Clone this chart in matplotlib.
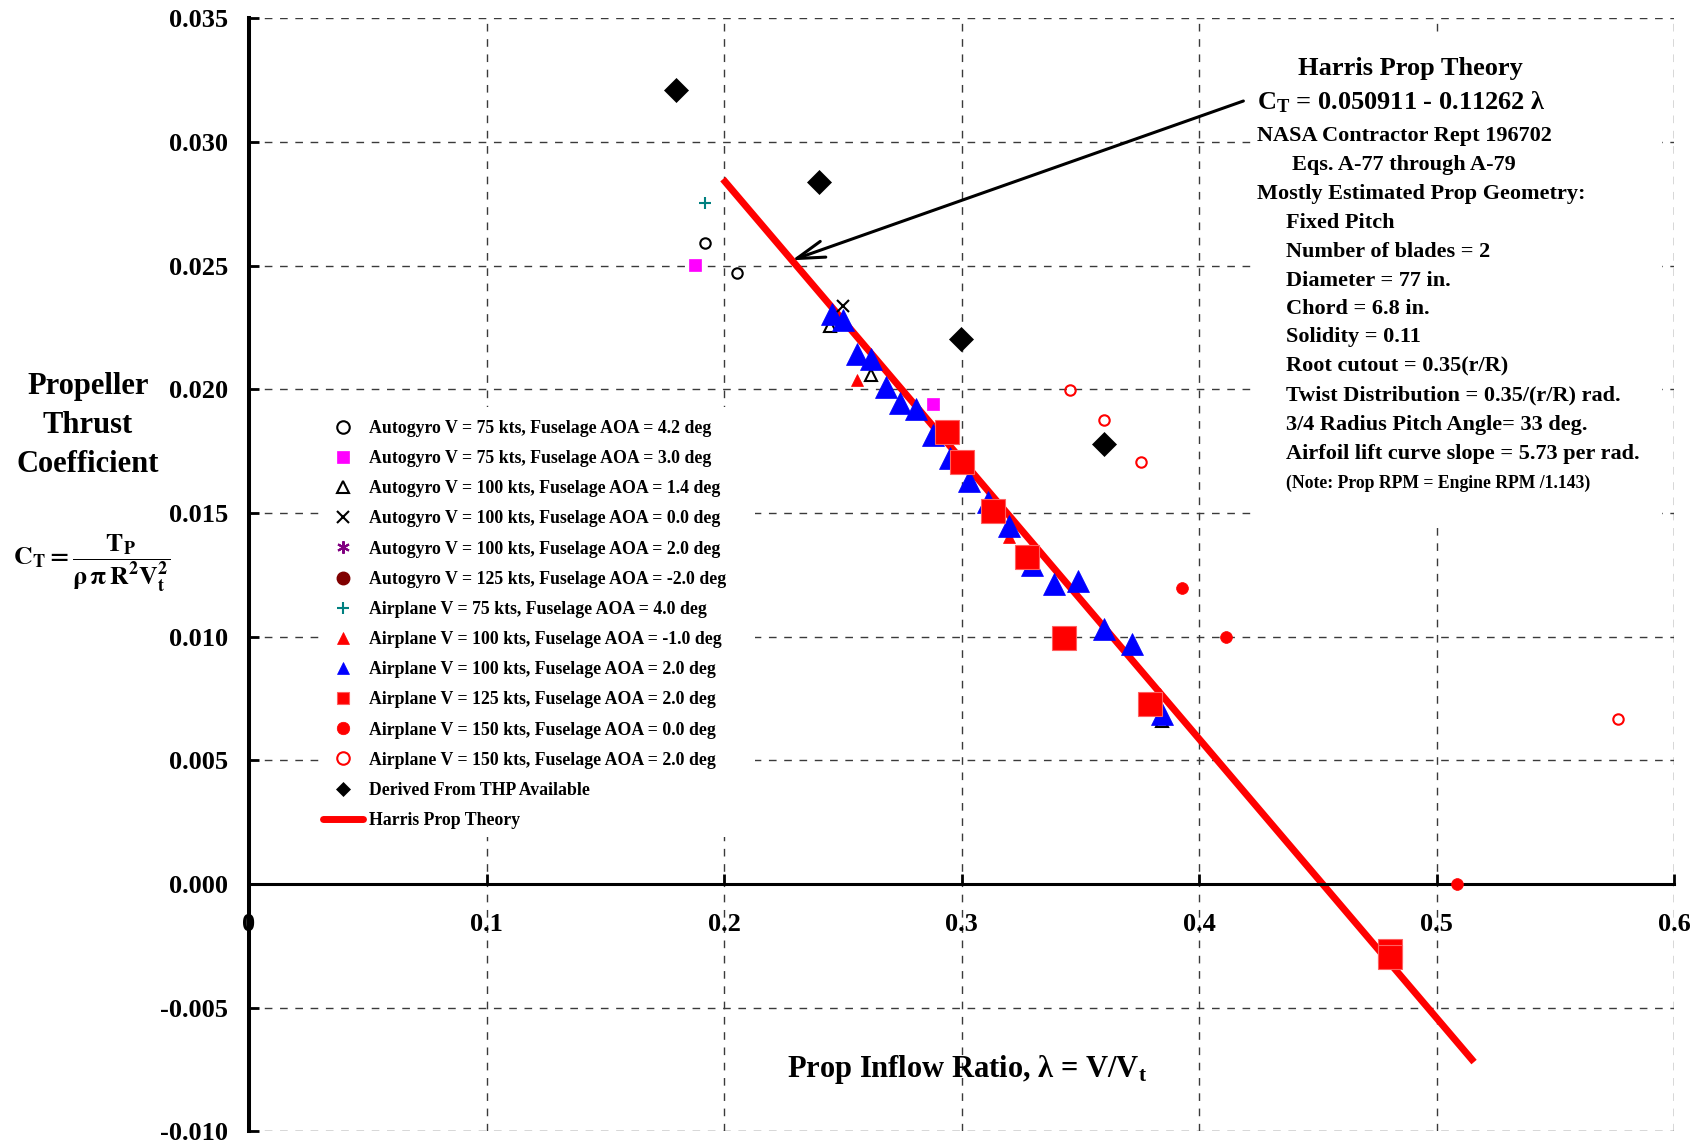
import numpy as np
import matplotlib
matplotlib.use("Agg")
import matplotlib.pyplot as plt
from matplotlib.lines import Line2D
from matplotlib.patches import Rectangle
from matplotlib.ticker import MultipleLocator, FuncFormatter

# ---------------- data ----------------
ag75_42_x = [0.1918, 0.2054]
ag75_42_y = [0.02593, 0.02470]
ag75_30_x = [0.1877, 0.2879]
ag75_30_y = [0.02501, 0.01940]
ag100_14_x = [0.2446, 0.2618, 0.3842]
ag100_14_y = [0.02258, 0.02060, 0.00660]
ag100_00_x = [0.2501]
ag100_00_y = [0.02339]
ag100_20_x = []
ag100_20_y = []
ag125_m20_x = []
ag125_m20_y = []
ap75_40_x = [0.1918]
ap75_40_y = [0.02755]
ap100_m10_x = [0.2560, 0.3201, 0.3836]
ap100_m10_y = [0.02036, 0.01402, 0.00768]
ap100_20_x = [0.2453, 0.2502, 0.2561, 0.2617, 0.2682, 0.2741, 0.2808, 0.2881, 0.2950,
              0.3032, 0.3109, 0.3201, 0.3295, 0.3390, 0.3491, 0.3600, 0.3718, 0.3842]
ap100_20_y = [0.02306, 0.02282, 0.02144, 0.02124, 0.02009, 0.01944, 0.01922, 0.01814, 0.01721,
              0.01631, 0.01545, 0.01447, 0.01290, 0.01211, 0.01227, 0.01031, 0.00971, 0.00687]
ap125_20_x = [0.2940, 0.3000, 0.3131, 0.3274, 0.3430, 0.3792, 0.4803, 0.4803]
ap125_20_y = [0.01827, 0.01706, 0.01510, 0.01321, 0.00995, 0.00728, -0.00272, -0.00296]
ap150_00_x = [0.3927, 0.4114, 0.5084]
ap150_00_y = [0.01196, 0.00999, 0.0]
ap150_20_x = [0.3458, 0.3598, 0.3757, 0.5763]
ap150_20_y = [0.01997, 0.01875, 0.01708, 0.00666]
thp_x = [0.1799, 0.2401, 0.2998, 0.3598]
thp_y = [0.03210, 0.02838, 0.02203, 0.01778]
harris_x = [0.1995, 0.5157]
harris_y = [0.0285, -0.0072]

labels = [
    "Autogyro V = 75 kts, Fuselage AOA = 4.2 deg",
    "Autogyro V = 75 kts, Fuselage AOA = 3.0 deg",
    "Autogyro V = 100 kts, Fuselage AOA = 1.4 deg",
    "Autogyro V = 100 kts, Fuselage AOA = 0.0 deg",
    "Autogyro V = 100 kts, Fuselage AOA = 2.0 deg",
    "Autogyro V = 125 kts, Fuselage AOA = -2.0 deg",
    "Airplane V = 75 kts, Fuselage AOA = 4.0 deg",
    "Airplane V = 100 kts, Fuselage AOA = -1.0 deg",
    "Airplane V = 100 kts, Fuselage AOA = 2.0 deg",
    "Airplane V = 125 kts, Fuselage AOA = 2.0 deg",
    "Airplane V = 150 kts, Fuselage AOA = 0.0 deg",
    "Airplane V = 150 kts, Fuselage AOA = 2.0 deg",
    "Derived From THP Available",
    "Harris Prop Theory",
]

info_lines = [
    ("NASA Contractor Rept 196702", 1256.7, 136.3, 16),
    ("Eqs. A-77 through A-79", 1291.7, 165.3, 16),
    ("Mostly Estimated Prop Geometry:", 1256.7, 194.3, 16),
    ("Fixed Pitch", 1286, 223, 16),
    ("Number of blades = 2", 1286, 252, 16),
    ("Diameter = 77 in.", 1286, 281, 16),
    ("Chord = 6.8 in.", 1286, 308.7, 16),
    ("Solidity = 0.11", 1286, 337, 16),
    ("Root cutout = 0.35(r/R)", 1286, 366.3, 16),
    ("Twist Distribution = 0.35/(r/R) rad.", 1286, 395.3, 16),
    ("3/4 Radius Pitch Angle= 33 deg.", 1286, 424.7, 16),
    ("Airfoil lift curve slope = 5.73 per rad.", 1286, 453.7, 16),
    ("(Note: Prop RPM = Engine RPM /1.143)", 1286, 483.7, 12.7),
]

# ---------------- style ----------------
plt.rcParams["font.family"] = ["Liberation Serif", "DejaVu Serif"]
plt.rcParams["font.weight"] = "bold"
plt.rcParams["mathtext.fontset"] = "custom"
plt.rcParams["mathtext.rm"] = "Liberation Serif:bold"
plt.rcParams["mathtext.bf"] = "Liberation Serif:bold"
plt.rcParams["mathtext.it"] = "Liberation Serif:bold"

W, H = 1697, 1143
fig = plt.figure(figsize=(W / 100, H / 100), dpi=100)

def fx(px):
    return px / W

def fy(py):
    return 1 - py / H

ax = fig.add_axes([fx(249), fy(1131.3), fx(1674.3) - fx(249), fy(18.4) - fy(1131.3)])
ax.set_xlim(0, 0.6)
ax.set_ylim(-0.010, 0.035)

ax.set_axisbelow(True)
ax.grid(True, color="#3a3a3a", linestyle=(0, (5.5, 5.5)), linewidth=1.0)
ax.xaxis.set_major_locator(MultipleLocator(0.1))
ax.yaxis.set_major_locator(MultipleLocator(0.005))
ax.xaxis.set_major_formatter(FuncFormatter(lambda v, p: "0" if abs(v) < 1e-9 else f"{v:.1f}"))
ax.yaxis.set_major_formatter(FuncFormatter(lambda v, p: f"{v:.3f}".replace("\u2212", "-")))

for s in ("top", "right"):
    ax.spines[s].set_visible(False)
ax.spines["left"].set_linewidth(2.9)
ax.spines["bottom"].set_position(("data", 0))
ax.spines["bottom"].set_linewidth(2.2)
ax.tick_params(axis="y", direction="in", length=7, width=2, pad=15, labelsize=19)
ax.tick_params(axis="x", direction="in", length=7, width=2, pad=21, labelsize=19)

# white boxes behind the legend and the note block
for (x0, y0, x1, y1) in [(1252, 38, 1662, 528), (320, 407, 755, 837)]:
    ax.add_artist(Rectangle((fx(x0), fy(y1)), fx(x1) - fx(x0), fy(y0) - fy(y1),
                            transform=fig.transFigure, facecolor="white",
                            edgecolor="none", zorder=1, clip_on=False))

# ---------------- series ----------------
styles = [
    (ag75_42_x, ag75_42_y, dict(marker="o", ms=7.5, mfc="none", mec="black", mew=1.5), 3),
    (ag75_30_x, ag75_30_y, dict(marker="s", ms=8.5, mfc="#ff00ff", mec="#ff00ff", mew=0.5), 3),
    (ag100_14_x, ag100_14_y, dict(marker="^", ms=8, mfc="none", mec="black", mew=1.5), 3),
    (ag100_00_x, ag100_00_y, dict(marker="x", ms=9, mec="black", mew=1.5), 6),
    (ag100_20_x, ag100_20_y, dict(marker=(6, 2, 0), ms=9, mec="#800080", mew=1.5), 3),
    (ag125_m20_x, ag125_m20_y, dict(marker="o", ms=8.5, mfc="#800000", mec="#800000"), 3),
    (ap75_40_x, ap75_40_y, dict(marker="+", ms=9, mec="#008080", mew=1.5), 3),
    (ap100_m10_x, ap100_m10_y, dict(marker="^", ms=9, mfc="red", mec="red", mew=0.5), 3),
    (ap100_20_x, ap100_20_y, dict(marker="^", ms=16.5, mfc="blue", mec="blue", mew=0.5), 4),
    (ap125_20_x, ap125_20_y, dict(marker="s", ms=17, mfc="red", mec="#ff6060", mew=0.8), 5),
    (ap150_00_x, ap150_00_y, dict(marker="o", ms=8.5, mfc="red", mec="red", mew=0.5), 5),
    (ap150_20_x, ap150_20_y, dict(marker="o", ms=7.5, mfc="none", mec="red", mew=1.5), 5),
    (thp_x, thp_y, dict(marker="D", ms=12.5, mfc="black", mec="black", mew=0.5), 5),
]

handles = []
for (xs, ys, st, z), lab in zip(styles, labels[:-1]):
    ax.plot(xs, ys, linestyle="none", zorder=z, clip_on=False, **st)
    hst = dict(st)
    hst["ms"] = 9 if hst["marker"] != "D" else 7
    handles.append(Line2D([], [], linestyle="none", **hst))

ax.plot(harris_x, harris_y, color="red", lw=5, solid_capstyle="butt", zorder=2.5)
handles.append(Line2D([], [], color="red", lw=5, solid_capstyle="round"))

leg = ax.legend(handles, labels, loc="upper left",
                bbox_to_anchor=(fx(322.5), fy(420)), bbox_transform=fig.transFigure,
                frameon=False, prop={"family": "Liberation Serif", "weight": "bold", "size": 12.8},
                handlelength=2.3, handletextpad=0.3, labelspacing=0.74,
                borderpad=0, borderaxespad=0)
leg.set_zorder(6)

# ---------------- annotations ----------------
ax.annotate("", xy=(0.2285, 0.02522), xytext=(0.4186, 0.03166),
            arrowprops=dict(arrowstyle="->,head_length=1.0,head_width=0.3",
                            color="black", lw=2.2, mutation_scale=20,
                            shrinkA=0, shrinkB=0), zorder=7)

fig.text(fx(1410), fy(68), "Harris Prop Theory", ha="center", va="center", fontsize=19,
         weight="bold", zorder=8)
fig.text(fx(1256.7), fy(101.7), r"$\mathbf{C_T}$ = 0.050911 - 0.11262 λ", ha="left",
         va="center", fontsize=19, weight="bold", zorder=8)
for txt, x, y, size in info_lines:
    fig.text(fx(x), fy(y), txt, ha="left", va="center", fontsize=size, weight="bold", zorder=8)

fig.text(fx(87.7), fy(425.5), "Propeller\nThrust\nCoefficient", ha="center", va="center",
         fontsize=22, weight="bold", linespacing=1.44)
fig.text(fx(13), fy(563), r"$\mathrm{C_T} =\dfrac{\mathrm{T_P}}{\mathrm{\rho\,\pi\,R^2V_t^2}}$",
         ha="left", va="center", fontsize=18.5, math_fontfamily="stix", weight="normal")
fig.text(fx(967.5), fy(1070), r"Prop Inflow Ratio, λ = V/V$_\mathbf{t}$", ha="center",
         va="center", fontsize=22, weight="bold")

fig.savefig("out.png", dpi=100, facecolor="white")
